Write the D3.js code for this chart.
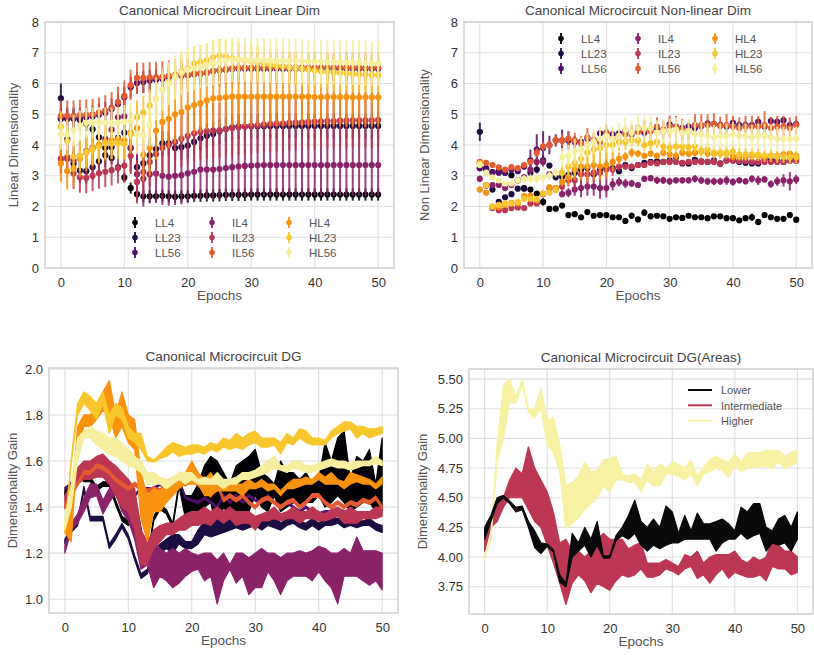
<!DOCTYPE html>
<html><head><meta charset="utf-8">
<script src="https://cdn.jsdelivr.net/npm/d3@7"></script>
<style>body{margin:0;background:#fff} svg{display:block} text{font-family:"Liberation Sans",Arial,sans-serif}</style>
</head><body><svg id="c" width="814" height="655"></svg>
<script>
const epochs = d3.range(0, 51);
const names = ["LL4","LL23","LL56","IL4","IL23","IL56","HL4","HL23","HL56"];
const colors = ["#000004","#1b0c41","#4f0e6d","#8a226a","#bc3754","#e45a31","#f8920f","#fac62d","#f6efa0"];
const xTicks = [0,10,20,30,40,50];
const dimTicks = [0,1,2,3,4,5,6,7,8];
const dgTicks = [1.0,1.2,1.4,1.6,1.8,2.0];
const areaTicks = [3.75,4.00,4.25,4.50,4.75,5.00,5.25,5.50];
const areaNames = ["Lower","Intermediate","Higher"];
const areaColors = ["#0a0a0c","#bc3754","#f7f2a4"];

// ---- Linear dimensionality (mean, error) ----
const linLL4 = [4.85,4.85,4.85,4.82,4.70,4.51,4.25,3.91,3.58,3.27,2.94,2.60,2.40,2.33,2.33,2.33,2.35,2.33,2.32,2.33,2.33,2.35,2.35,2.36,2.36,2.37,2.38,2.38,2.38,2.38,2.39,2.39,2.39,2.39,2.39,2.39,2.39,2.39,2.39,2.39,2.39,2.39,2.39,2.39,2.39,2.39,2.39,2.39,2.39,2.39,2.39];
const linLL4e = [0.30,0.30,0.30,0.30,0.25,0.20,0.20,0.20,0.20,0.15,0.15,0.18,0.20,0.20,0.20,0.20,0.20,0.20,0.20,0.20,0.20,0.20,0.20,0.20,0.20,0.20,0.20,0.20,0.20,0.20,0.20,0.20,0.20,0.20,0.20,0.20,0.20,0.20,0.20,0.20,0.20,0.20,0.20,0.20,0.20,0.20,0.20,0.20,0.20,0.20,0.20];
const linLL23 = [5.52,4.18,3.39,3.17,3.15,3.28,3.47,3.67,3.93,4.23,4.40,3.90,3.28,3.40,3.66,3.87,4.05,4.05,3.90,3.93,3.98,4.10,4.22,4.30,4.36,4.45,4.52,4.57,4.60,4.60,4.61,4.61,4.61,4.62,4.62,4.62,4.62,4.62,4.62,4.62,4.62,4.62,4.62,4.62,4.62,4.62,4.62,4.62,4.62,4.62,4.62];
const linLL23e = [0.48,0.40,0.40,0.40,0.40,0.40,0.40,0.40,0.40,0.40,0.40,0.40,0.40,0.40,0.40,0.40,0.40,0.40,0.40,0.40,0.40,0.40,0.40,0.40,0.40,0.40,0.40,0.40,0.40,0.40,0.40,0.40,0.40,0.40,0.40,0.40,0.40,0.40,0.40,0.40,0.40,0.40,0.40,0.40,0.40,0.40,0.40,0.40,0.40,0.40,0.40];
const linLL56 = [4.85,4.87,4.87,4.87,4.90,4.93,4.98,5.05,5.17,5.33,5.55,5.88,6.02,6.05,6.10,6.12,6.15,6.20,6.22,6.25,6.27,6.30,6.32,6.35,6.40,6.43,6.45,6.47,6.48,6.48,6.48,6.48,6.48,6.48,6.48,6.48,6.48,6.48,6.48,6.48,6.48,6.48,6.48,6.48,6.48,6.48,6.48,6.48,6.48,6.48,6.48];
const linLL56e = [0.35,0.35,0.35,0.35,0.35,0.35,0.35,0.35,0.35,0.35,0.35,0.35,0.35,0.35,0.35,0.35,0.35,0.35,0.35,0.35,0.35,0.35,0.35,0.35,0.35,0.35,0.35,0.35,0.35,0.35,0.35,0.35,0.35,0.35,0.35,0.35,0.35,0.35,0.35,0.35,0.35,0.35,0.35,0.35,0.35,0.35,0.35,0.35,0.35,0.35,0.35];
const linIL4 = [3.55,3.55,3.50,3.65,3.80,3.90,4.00,4.20,4.50,4.90,4.93,3.90,3.05,2.90,3.05,3.07,3.00,2.97,3.00,3.02,3.08,3.13,3.20,3.20,3.20,3.22,3.25,3.28,3.30,3.32,3.33,3.34,3.35,3.35,3.35,3.35,3.35,3.35,3.35,3.35,3.35,3.35,3.35,3.35,3.35,3.35,3.35,3.35,3.35,3.35,3.35];
const linIL4e = [0.45,0.45,0.45,0.50,0.50,0.50,0.50,0.55,0.60,0.65,0.70,0.80,0.90,0.90,0.95,0.95,0.95,0.95,0.95,0.95,0.95,0.95,0.95,0.95,0.95,0.95,1.00,1.00,1.00,1.00,1.00,1.00,1.00,1.00,1.00,1.00,1.00,1.00,1.00,1.00,1.00,1.00,1.00,1.00,1.00,1.00,1.00,1.00,1.00,1.00,1.00];
const linIL23 = [3.55,3.60,3.07,2.95,2.93,3.00,3.08,3.13,3.18,3.25,3.33,3.65,2.80,3.12,3.45,3.70,3.90,4.00,4.10,4.20,4.30,4.38,4.42,4.45,4.47,4.48,4.52,4.55,4.58,4.60,4.62,4.64,4.66,4.68,4.70,4.70,4.72,4.73,4.74,4.75,4.76,4.77,4.78,4.78,4.79,4.79,4.80,4.80,4.80,4.80,4.81];
const linIL23e = [0.50,0.50,0.50,0.50,0.50,0.50,0.50,0.50,0.50,0.50,0.55,0.60,0.70,0.75,0.80,0.85,0.90,0.90,0.90,0.90,0.90,0.90,0.90,0.90,0.90,0.90,0.90,0.90,0.90,0.90,0.90,0.90,0.90,0.90,0.90,0.90,0.90,0.90,0.90,0.90,0.90,0.90,0.90,0.90,0.90,0.90,0.90,0.90,0.90,0.90,0.90];
const linIL56 = [4.95,4.95,4.95,4.97,4.98,5.00,5.05,5.12,5.22,5.40,5.60,5.95,6.18,6.18,6.20,6.20,6.22,6.25,6.27,6.28,6.30,6.32,6.33,6.36,6.40,6.43,6.47,6.50,6.51,6.52,6.52,6.52,6.52,6.52,6.52,6.52,6.52,6.52,6.52,6.52,6.52,6.52,6.52,6.52,6.52,6.52,6.52,6.52,6.52,6.52,6.52];
const linIL56e = [0.50,0.50,0.50,0.50,0.50,0.50,0.50,0.50,0.50,0.50,0.50,0.50,0.50,0.50,0.50,0.50,0.50,0.50,0.50,0.50,0.50,0.50,0.50,0.50,0.50,0.50,0.50,0.50,0.50,0.50,0.50,0.50,0.50,0.50,0.50,0.50,0.50,0.50,0.50,0.50,0.50,0.50,0.50,0.50,0.50,0.50,0.50,0.50,0.50,0.50,0.50];
const linHL4 = [3.40,3.15,3.25,3.55,3.75,3.90,4.00,4.10,4.15,4.20,4.15,4.40,4.55,3.68,3.90,4.47,4.75,4.85,5.00,5.07,5.22,5.30,5.36,5.45,5.52,5.53,5.55,5.57,5.57,5.57,5.57,5.57,5.57,5.57,5.57,5.57,5.57,5.57,5.57,5.57,5.56,5.56,5.56,5.56,5.56,5.56,5.55,5.55,5.55,5.55,5.55];
const linHL4e = [0.60,0.60,0.60,0.60,0.60,0.60,0.60,0.60,0.60,0.60,0.60,0.70,0.80,0.85,0.90,0.95,0.95,0.95,0.95,0.95,0.95,0.95,0.95,0.95,0.95,0.95,0.95,0.95,0.95,0.95,0.95,0.95,0.95,0.95,0.95,0.95,0.95,0.95,0.95,0.95,0.95,0.95,0.95,0.95,0.95,0.95,0.95,0.95,0.95,0.95,0.95];
const linHL23 = [4.60,4.13,3.62,3.65,3.78,3.85,3.95,4.05,4.05,4.05,4.03,4.35,4.90,5.05,5.28,5.50,5.80,6.05,6.25,6.40,6.50,6.65,6.70,6.75,6.85,6.90,6.87,6.82,6.78,6.75,6.72,6.68,6.64,6.60,6.57,6.55,6.52,6.50,6.48,6.45,6.42,6.40,6.38,6.36,6.35,6.33,6.31,6.30,6.29,6.28,6.27];
const linHL23e = [0.50,0.50,0.50,0.50,0.50,0.50,0.50,0.50,0.50,0.50,0.50,0.50,0.55,0.55,0.55,0.55,0.55,0.55,0.55,0.55,0.55,0.55,0.55,0.55,0.55,0.55,0.55,0.55,0.55,0.55,0.55,0.55,0.55,0.55,0.55,0.55,0.55,0.55,0.55,0.55,0.55,0.55,0.55,0.55,0.55,0.55,0.55,0.55,0.55,0.55,0.55];
const linHL56 = [4.35,4.33,4.48,4.62,4.72,4.73,4.73,4.72,4.72,4.73,4.75,4.78,4.35,4.30,4.65,5.50,5.80,6.00,6.20,6.35,6.45,6.50,6.55,6.60,6.65,6.70,6.75,6.77,6.77,6.77,6.76,6.76,6.75,6.75,6.74,6.74,6.73,6.73,6.72,6.72,6.71,6.71,6.70,6.70,6.69,6.69,6.68,6.68,6.67,6.66,6.65];
const linHL56e = [0.50,0.50,0.50,0.50,0.50,0.50,0.50,0.50,0.50,0.50,0.55,0.60,0.65,0.70,0.70,0.70,0.70,0.70,0.72,0.72,0.72,0.72,0.72,0.72,0.72,0.72,0.72,0.72,0.72,0.72,0.72,0.72,0.72,0.72,0.72,0.72,0.72,0.72,0.72,0.72,0.72,0.72,0.72,0.72,0.72,0.72,0.72,0.72,0.72,0.72,0.72];

// ---- Non-linear dimensionality (mean, error) ----
const nlLL4 = [3.25,3.20,3.12,3.17,3.10,3.02,2.85,2.60,2.55,2.42,2.15,1.92,1.93,2.03,1.72,1.75,1.65,1.82,1.70,1.72,1.72,1.65,1.65,1.53,1.70,1.58,1.80,1.68,1.70,1.68,1.60,1.65,1.63,1.70,1.65,1.65,1.62,1.68,1.68,1.62,1.62,1.55,1.62,1.65,1.50,1.72,1.65,1.60,1.60,1.72,1.57];
const nlLL4e = [0.05,0.05,0.05,0.05,0.05,0.05,0.05,0.05,0.05,0.05,0.12,0.08,0.05,0.05,0.08,0.05,0.05,0.05,0.05,0.05,0.05,0.05,0.05,0.05,0.10,0.07,0.10,0.05,0.08,0.08,0.08,0.05,0.05,0.05,0.05,0.05,0.05,0.08,0.05,0.05,0.05,0.05,0.06,0.12,0.05,0.05,0.05,0.05,0.05,0.07,0.09];
const nlLL23 = [4.43,3.25,2.55,2.15,2.30,2.40,2.58,2.58,3.10,3.20,3.50,3.33,2.95,2.97,3.03,3.10,3.20,3.25,3.05,3.20,3.25,3.25,3.15,3.35,3.25,3.35,3.42,3.45,3.47,3.45,3.50,3.60,3.40,3.40,3.52,3.47,3.45,3.50,3.40,3.50,3.50,3.45,3.42,3.40,3.40,3.55,3.50,3.50,3.45,3.50,3.55];
const nlLL23e = [0.30,0.10,0.06,0.06,0.06,0.06,0.06,0.06,0.08,0.12,0.15,0.06,0.06,0.06,0.06,0.06,0.06,0.06,0.06,0.06,0.06,0.06,0.06,0.06,0.06,0.06,0.06,0.06,0.06,0.06,0.06,0.08,0.06,0.06,0.06,0.06,0.06,0.06,0.06,0.06,0.06,0.06,0.06,0.06,0.06,0.06,0.06,0.06,0.06,0.06,0.06];
const nlLL56 = [3.25,3.20,3.10,3.10,3.10,3.20,3.15,3.30,3.50,3.85,3.90,4.00,4.15,4.15,4.15,4.10,4.10,4.20,4.15,4.38,4.38,4.35,4.38,4.45,4.35,4.55,4.40,4.50,4.55,4.45,4.67,4.60,4.55,4.60,4.55,4.62,4.70,4.68,4.65,4.60,4.72,4.65,4.65,4.65,4.75,4.60,4.78,4.75,4.80,4.65,4.68];
const nlLL56e = [0.08,0.08,0.08,0.08,0.08,0.08,0.08,0.10,0.35,0.50,0.55,0.30,0.20,0.35,0.30,0.20,0.15,0.20,0.15,0.10,0.15,0.12,0.12,0.10,0.10,0.12,0.10,0.12,0.15,0.12,0.15,0.12,0.12,0.12,0.12,0.12,0.12,0.12,0.12,0.12,0.12,0.12,0.12,0.12,0.12,0.12,0.12,0.12,0.12,0.12,0.12];
const nlIL4 = [2.90,2.68,2.70,2.70,2.60,2.70,2.85,2.95,3.20,3.45,3.45,3.05,2.60,2.40,2.45,2.55,2.60,2.65,2.65,2.60,2.60,2.72,2.80,2.75,2.75,2.70,2.90,2.92,2.85,2.85,2.82,2.85,2.85,2.85,2.90,2.85,2.82,2.82,2.82,2.85,2.80,2.85,2.82,2.90,2.85,2.88,2.73,2.82,2.85,2.82,2.88];
const nlIL4e = [0.10,0.08,0.08,0.08,0.08,0.08,0.08,0.10,0.15,0.15,0.15,0.10,0.10,0.10,0.15,0.20,0.30,0.30,0.30,0.35,0.30,0.20,0.15,0.15,0.12,0.10,0.10,0.10,0.12,0.12,0.12,0.10,0.10,0.10,0.12,0.12,0.12,0.12,0.12,0.15,0.12,0.10,0.10,0.12,0.15,0.10,0.12,0.15,0.20,0.30,0.15];
const nlIL23 = [3.40,2.70,1.95,1.88,1.88,1.95,1.97,1.95,2.10,2.10,2.40,2.58,2.55,2.65,2.85,2.85,3.05,3.05,3.10,3.10,3.20,3.20,3.30,3.30,3.30,3.35,3.35,3.42,3.40,3.45,3.45,3.45,3.42,3.45,3.45,3.45,3.45,3.45,3.38,3.50,3.50,3.48,3.48,3.45,3.45,3.45,3.45,3.45,3.45,3.50,3.48];
const nlIL23e = [0.08,0.06,0.06,0.06,0.06,0.06,0.06,0.06,0.06,0.06,0.10,0.10,0.10,0.15,0.20,0.30,0.35,0.35,0.30,0.30,0.30,0.20,0.15,0.10,0.10,0.08,0.08,0.08,0.08,0.08,0.08,0.08,0.08,0.08,0.08,0.08,0.08,0.08,0.08,0.08,0.08,0.08,0.08,0.08,0.08,0.08,0.08,0.08,0.08,0.08,0.08];
const nlIL56 = [3.45,3.42,3.35,3.27,3.20,3.28,3.25,3.35,3.45,3.75,3.95,4.00,4.15,4.15,4.20,4.15,4.05,4.25,4.15,4.10,4.40,4.20,4.30,4.35,4.40,4.42,4.50,4.45,4.60,4.50,4.60,4.60,4.50,4.45,4.65,4.65,4.65,4.68,4.62,4.65,4.60,4.55,4.60,4.60,4.60,4.65,4.55,4.60,4.60,4.55,4.65];
const nlIL56e = [0.10,0.08,0.08,0.08,0.08,0.08,0.08,0.10,0.10,0.15,0.15,0.15,0.15,0.20,0.25,0.25,0.25,0.30,0.25,0.25,0.25,0.25,0.25,0.25,0.25,0.25,0.30,0.30,0.30,0.30,0.35,0.35,0.35,0.30,0.35,0.35,0.35,0.35,0.30,0.35,0.35,0.35,0.35,0.35,0.35,0.45,0.35,0.35,0.35,0.35,0.30];
const nlHL4 = [2.55,2.45,2.00,1.98,2.05,2.12,2.10,2.35,2.35,2.20,2.42,2.62,2.60,2.80,2.95,3.20,3.30,3.30,3.35,3.30,3.35,3.45,3.55,3.62,3.75,3.72,3.65,3.72,3.65,3.75,3.70,3.65,3.75,3.72,3.75,3.80,3.72,3.72,3.72,3.72,3.62,3.62,3.62,3.65,3.65,3.62,3.65,3.65,3.70,3.72,3.65];
const nlHL4e = [0.10,0.06,0.06,0.06,0.06,0.06,0.06,0.06,0.06,0.06,0.10,0.10,0.10,0.15,0.25,0.35,0.45,0.50,0.50,0.45,0.40,0.30,0.20,0.15,0.15,0.12,0.10,0.10,0.10,0.12,0.15,0.12,0.12,0.12,0.12,0.12,0.12,0.12,0.12,0.12,0.12,0.12,0.12,0.12,0.12,0.12,0.12,0.12,0.12,0.12,0.12];
const nlHL23 = [3.40,2.70,2.00,2.05,2.10,2.10,2.15,2.25,2.25,2.25,2.42,2.45,2.55,3.10,3.30,3.40,3.55,3.75,3.85,3.90,4.00,4.00,4.10,4.10,4.15,4.15,4.00,4.05,4.10,3.95,3.90,3.95,3.95,3.92,3.95,3.80,3.85,3.75,3.75,3.75,3.78,3.70,3.70,3.70,3.68,3.65,3.65,3.62,3.62,3.60,3.60];
const nlHL23e = [0.10,0.06,0.06,0.06,0.06,0.06,0.06,0.06,0.06,0.06,0.08,0.08,0.10,0.20,0.30,0.40,0.45,0.50,0.50,0.50,0.45,0.40,0.30,0.25,0.20,0.20,0.20,0.20,0.20,0.20,0.20,0.20,0.20,0.20,0.20,0.20,0.20,0.20,0.20,0.20,0.20,0.20,0.20,0.20,0.20,0.20,0.20,0.20,0.20,0.20,0.20];
const nlHL56 = [3.35,3.10,2.95,2.85,2.75,2.75,2.85,2.90,2.90,2.90,2.95,3.00,3.10,3.60,3.65,3.80,3.85,4.00,4.10,4.20,4.30,4.20,4.30,4.50,4.40,4.55,4.55,4.55,4.40,4.45,4.45,4.50,4.40,4.45,4.35,4.35,4.30,4.25,4.30,4.30,4.35,4.30,4.30,4.25,4.30,4.30,4.25,4.20,4.20,4.20,4.20];
const nlHL56e = [0.10,0.06,0.06,0.06,0.06,0.06,0.10,0.12,0.15,0.15,0.15,0.15,0.15,0.30,0.35,0.40,0.40,0.40,0.40,0.40,0.40,0.40,0.40,0.40,0.40,0.40,0.40,0.40,0.40,0.40,0.40,0.40,0.40,0.40,0.40,0.40,0.40,0.40,0.40,0.40,0.40,0.40,0.40,0.40,0.40,0.40,0.40,0.40,0.40,0.40,0.40];

// ---- Dimensionality gain bands (low, high) ----
const dgLL4lo = [1.45,1.49,1.54,1.51,1.51,1.47,1.49,1.49,1.41,1.34,1.32,1.44,1.29,1.15,1.34,1.39,1.37,1.31,1.49,1.35,1.38,1.35,1.40,1.42,1.28,1.40,1.36,1.37,1.35,1.38,1.45,1.40,1.38,1.45,1.38,1.40,1.42,1.40,1.42,1.42,1.45,1.40,1.42,1.45,1.42,1.38,1.40,1.42,1.42,1.38,1.40];
const dgLL4hi = [1.47,1.51,1.56,1.53,1.53,1.49,1.51,1.51,1.43,1.36,1.34,1.46,1.31,1.17,1.36,1.41,1.39,1.33,1.51,1.45,1.45,1.50,1.58,1.62,1.60,1.55,1.50,1.58,1.60,1.62,1.65,1.55,1.53,1.50,1.60,1.55,1.55,1.52,1.55,1.50,1.52,1.68,1.60,1.70,1.73,1.52,1.62,1.60,1.65,1.50,1.70];
const dgLL23lo = [1.24,1.29,1.32,1.47,1.34,1.34,1.34,1.22,1.26,1.31,1.26,1.17,1.09,1.11,1.18,1.20,1.22,1.20,1.24,1.22,1.22,1.24,1.28,1.27,1.28,1.29,1.30,1.31,1.30,1.31,1.32,1.30,1.32,1.31,1.30,1.32,1.33,1.31,1.30,1.32,1.30,1.32,1.32,1.33,1.31,1.32,1.31,1.32,1.32,1.30,1.29];
const dgLL23hi = [1.26,1.31,1.34,1.49,1.36,1.36,1.36,1.24,1.28,1.33,1.28,1.19,1.11,1.13,1.21,1.24,1.26,1.28,1.28,1.25,1.25,1.30,1.34,1.32,1.36,1.34,1.35,1.36,1.34,1.36,1.35,1.35,1.36,1.37,1.33,1.35,1.36,1.34,1.33,1.35,1.33,1.36,1.36,1.35,1.37,1.35,1.34,1.34,1.35,1.33,1.32];
const dgLL56lo = [1.475,1.495,1.545,1.545,1.545,1.545,1.545,1.495,1.475,1.415,1.395,1.445,1.475,1.475,1.475,1.495,1.475,1.495,1.515,1.435,1.425,1.415,1.435,1.415,1.395,1.445,1.415,1.445,1.415,1.445,1.425,1.415,1.445,1.415,1.395,1.415,1.395,1.375,1.395,1.375,1.365,1.375,1.375,1.385,1.375,1.355,1.365,1.355,1.365,1.375,1.385];
const dgLL56hi = [1.485,1.505,1.555,1.555,1.555,1.555,1.555,1.505,1.485,1.425,1.405,1.455,1.485,1.485,1.485,1.505,1.485,1.505,1.525,1.445,1.435,1.425,1.445,1.425,1.405,1.455,1.425,1.455,1.425,1.455,1.435,1.425,1.455,1.425,1.405,1.425,1.405,1.385,1.405,1.385,1.375,1.385,1.385,1.395,1.385,1.365,1.375,1.365,1.375,1.385,1.395];
const dgIL4lo = [1.20,1.30,1.33,1.38,1.44,1.45,1.37,1.42,1.46,1.38,1.34,1.26,1.13,1.15,1.05,1.10,1.08,1.05,1.07,1.10,1.12,1.13,1.08,1.10,0.98,1.08,1.13,1.07,1.10,1.02,1.05,1.05,1.12,1.08,1.02,1.08,1.10,1.10,1.10,1.08,1.12,1.08,1.05,0.98,1.10,1.10,1.10,1.08,1.06,1.08,1.04];
const dgIL4hi = [1.23,1.33,1.37,1.44,1.50,1.50,1.43,1.48,1.52,1.44,1.40,1.32,1.18,1.27,1.25,1.22,1.20,1.22,1.20,1.22,1.20,1.19,1.20,1.20,1.17,1.20,1.15,1.20,1.20,1.18,1.20,1.22,1.20,1.20,1.18,1.20,1.20,1.21,1.20,1.21,1.23,1.22,1.20,1.20,1.22,1.20,1.27,1.21,1.21,1.21,1.20];
const dgIL23lo = [1.40,1.45,1.50,1.52,1.52,1.53,1.53,1.50,1.45,1.40,1.38,1.30,1.15,1.15,1.22,1.25,1.28,1.28,1.30,1.30,1.32,1.32,1.33,1.32,1.35,1.33,1.35,1.32,1.33,1.33,1.30,1.34,1.34,1.35,1.34,1.35,1.35,1.33,1.35,1.35,1.34,1.34,1.35,1.36,1.33,1.33,1.33,1.35,1.35,1.35,1.36];
const dgIL23hi = [1.45,1.50,1.57,1.60,1.60,1.62,1.63,1.60,1.58,1.55,1.52,1.48,1.30,1.25,1.30,1.32,1.33,1.33,1.35,1.37,1.38,1.38,1.40,1.38,1.40,1.38,1.40,1.38,1.38,1.38,1.36,1.37,1.38,1.40,1.37,1.38,1.40,1.38,1.38,1.40,1.38,1.37,1.39,1.40,1.38,1.40,1.38,1.38,1.38,1.40,1.40];
const dgIL56lo = [1.392,1.442,1.492,1.542,1.542,1.572,1.562,1.542,1.512,1.492,1.472,1.492,1.472,1.462,1.472,1.462,1.492,1.492,1.512,1.492,1.512,1.492,1.472,1.442,1.492,1.422,1.442,1.422,1.442,1.412,1.392,1.422,1.432,1.412,1.392,1.412,1.422,1.392,1.412,1.442,1.442,1.412,1.392,1.412,1.392,1.412,1.402,1.422,1.412,1.432,1.392];
const dgIL56hi = [1.408,1.458,1.508,1.558,1.558,1.588,1.578,1.558,1.528,1.508,1.488,1.508,1.488,1.478,1.488,1.478,1.508,1.508,1.528,1.508,1.528,1.508,1.488,1.458,1.508,1.438,1.458,1.438,1.458,1.428,1.408,1.438,1.448,1.428,1.408,1.428,1.438,1.408,1.428,1.458,1.458,1.428,1.408,1.428,1.408,1.428,1.418,1.438,1.428,1.448,1.408];
const dgHL4lo = [1.29,1.25,1.65,1.75,1.75,1.78,1.82,1.80,1.70,1.75,1.68,1.65,1.35,1.25,1.38,1.38,1.42,1.45,1.48,1.50,1.50,1.50,1.45,1.45,1.47,1.47,1.47,1.47,1.45,1.48,1.48,1.49,1.47,1.48,1.45,1.48,1.48,1.49,1.50,1.50,1.52,1.50,1.50,1.50,1.48,1.50,1.51,1.50,1.50,1.48,1.50];
const dgHL4hi = [1.31,1.40,1.75,1.80,1.80,1.85,1.90,1.95,1.80,1.90,1.80,1.78,1.55,1.45,1.48,1.47,1.50,1.52,1.53,1.55,1.60,1.55,1.52,1.55,1.50,1.50,1.50,1.50,1.50,1.52,1.50,1.52,1.50,1.50,1.47,1.50,1.52,1.52,1.53,1.52,1.55,1.53,1.55,1.52,1.51,1.55,1.54,1.53,1.52,1.50,1.53];
const dgHL23lo = [1.29,1.59,1.80,1.85,1.82,1.78,1.85,1.72,1.80,1.78,1.70,1.68,1.65,1.60,1.595,1.61,1.62,1.64,1.62,1.63,1.63,1.64,1.63,1.65,1.64,1.66,1.65,1.66,1.65,1.67,1.68,1.66,1.66,1.67,1.63,1.68,1.67,1.70,1.68,1.67,1.67,1.67,1.70,1.72,1.73,1.74,1.70,1.72,1.70,1.71,1.72];
const dgHL23hi = [1.31,1.61,1.85,1.90,1.88,1.85,1.90,1.80,1.85,1.83,1.75,1.72,1.72,1.62,1.605,1.63,1.66,1.68,1.67,1.66,1.67,1.67,1.66,1.68,1.67,1.70,1.69,1.72,1.70,1.72,1.73,1.70,1.70,1.70,1.68,1.72,1.70,1.74,1.73,1.70,1.70,1.69,1.73,1.75,1.77,1.77,1.75,1.75,1.74,1.74,1.75];
const dgHL56lo = [1.30,1.40,1.60,1.70,1.70,1.67,1.65,1.63,1.62,1.60,1.58,1.57,1.55,1.50,1.50,1.50,1.48,1.50,1.52,1.50,1.52,1.50,1.50,1.50,1.50,1.48,1.50,1.50,1.52,1.52,1.53,1.54,1.55,1.57,1.56,1.55,1.57,1.56,1.55,1.55,1.56,1.57,1.58,1.57,1.57,1.56,1.57,1.58,1.58,1.59,1.58];
const dgHL56hi = [1.35,1.50,1.70,1.73,1.75,1.73,1.72,1.70,1.70,1.68,1.65,1.62,1.60,1.55,1.55,1.53,1.52,1.53,1.55,1.55,1.55,1.52,1.53,1.52,1.55,1.52,1.52,1.53,1.55,1.55,1.56,1.58,1.60,1.62,1.58,1.58,1.60,1.60,1.58,1.58,1.59,1.60,1.61,1.60,1.60,1.59,1.60,1.60,1.60,1.62,1.60];

// ---- Dimensionality gain by area (low, high) ----
const arLowerLo = [4.15,4.30,4.45,4.50,4.45,4.38,4.40,4.25,4.08,4.03,4.09,4.04,3.79,3.75,4.00,4.05,4.10,4.00,4.10,3.99,3.99,4.14,4.18,4.15,4.20,4.10,4.05,4.10,4.07,4.10,4.12,4.12,4.15,4.15,4.15,4.15,4.15,4.05,4.12,4.15,4.15,4.20,4.15,4.18,4.20,4.05,4.12,4.10,4.12,4.05,4.15];
const arLowerHi = [4.25,4.35,4.50,4.52,4.47,4.42,4.43,4.30,4.22,4.12,4.11,4.06,3.85,3.78,4.20,4.12,4.25,4.15,4.30,4.01,4.01,4.18,4.25,4.35,4.48,4.30,4.25,4.32,4.25,4.43,4.38,4.20,4.35,4.22,4.37,4.28,4.28,4.30,4.32,4.28,4.22,4.42,4.38,4.45,4.45,4.25,4.22,4.32,4.35,4.25,4.38];
const arInterLo = [4.05,4.25,4.30,4.42,4.50,4.50,4.50,4.40,4.30,4.25,4.10,3.95,3.78,3.60,3.78,3.85,3.80,3.70,3.78,3.75,3.72,3.80,3.85,3.83,3.85,3.90,3.83,3.83,3.85,3.90,3.88,3.85,3.90,3.92,3.82,3.85,3.78,3.85,3.90,3.82,3.87,3.85,3.83,3.83,3.85,3.80,3.92,3.90,3.90,3.85,3.87];
const arInterHi = [4.15,4.30,4.45,4.50,4.65,4.75,4.70,4.93,4.75,4.65,4.55,4.38,4.12,4.15,4.05,4.05,4.00,4.05,4.15,4.20,4.15,4.15,4.15,4.07,4.10,4.12,3.95,3.95,3.95,3.98,3.95,3.92,4.02,4.00,4.05,3.95,4.00,4.02,4.02,4.02,4.05,3.98,3.95,4.00,3.97,4.00,4.15,4.10,4.05,4.05,4.00];
const arHigherLo = [3.98,4.15,4.80,5.00,5.30,5.30,5.45,5.22,5.17,5.25,4.95,4.88,4.72,4.24,4.28,4.33,4.40,4.45,4.50,4.60,4.55,4.65,4.65,4.63,4.63,4.55,4.65,4.60,4.60,4.70,4.70,4.68,4.65,4.70,4.60,4.70,4.72,4.75,4.73,4.67,4.77,4.72,4.75,4.76,4.76,4.77,4.75,4.80,4.75,4.77,4.80];
const arHigherHi = [4.00,4.20,4.95,5.45,5.50,5.35,5.50,5.25,5.25,5.42,5.15,5.18,4.95,4.60,4.63,4.68,4.80,4.72,4.73,4.82,4.83,4.85,4.70,4.68,4.70,4.65,4.78,4.72,4.78,4.75,4.80,4.78,4.75,4.82,4.68,4.76,4.82,4.85,4.82,4.80,4.87,4.80,4.88,4.88,4.88,4.90,4.90,4.90,4.85,4.88,4.90];

const linMeans = [linLL4,linLL23,linLL56,linIL4,linIL23,linIL56,linHL4,linHL23,linHL56];
const linErrs = [linLL4e,linLL23e,linLL56e,linIL4e,linIL23e,linIL56e,linHL4e,linHL23e,linHL56e];
const nlMeans = [nlLL4,nlLL23,nlLL56,nlIL4,nlIL23,nlIL56,nlHL4,nlHL23,nlHL56];
const nlErrs = [nlLL4e,nlLL23e,nlLL56e,nlIL4e,nlIL23e,nlIL56e,nlHL4e,nlHL23e,nlHL56e];
const dgLo = [dgLL4lo,dgLL23lo,dgLL56lo,dgIL4lo,dgIL23lo,dgIL56lo,dgHL4lo,dgHL23lo,dgHL56lo];
const dgHi = [dgLL4hi,dgLL23hi,dgLL56hi,dgIL4hi,dgIL23hi,dgIL56hi,dgHL4hi,dgHL23hi,dgHL56hi];
const arLo = [arLowerLo,arInterLo,arHigherLo];
const arHi = [arLowerHi,arInterHi,arHigherHi];

const svg = d3.select("#c");
const TXT = "#555", TICK = "#333", GRID = "#e0e0e0", FRAME = "#d4d4d4";

function panel(box, yDom, yTicks, yFmt, title, ylabel, ylabX) {
  const x = d3.scaleLinear().domain([-2.5, 52.5]).range([box.l, box.r]);
  const y = d3.scaleLinear().domain(yDom).range([box.b, box.t]);
  const g = svg.append("g");
  g.append("g").selectAll("line").data(xTicks).join("line")
    .attr("x1", d => x(d)).attr("x2", d => x(d)).attr("y1", box.t).attr("y2", box.b)
    .attr("stroke", GRID).attr("stroke-width", 1.1);
  g.append("g").selectAll("line").data(yTicks).join("line")
    .attr("x1", box.l).attr("x2", box.r).attr("y1", d => y(d)).attr("y2", d => y(d))
    .attr("stroke", GRID).attr("stroke-width", 1.1);
  const xa = g.append("g").attr("transform", `translate(0,${box.b})`)
    .call(d3.axisBottom(x).tickValues(xTicks).tickSize(0).tickPadding(10).tickFormat(d3.format("d")));
  const ya = g.append("g").attr("transform", `translate(${box.l},0)`)
    .call(d3.axisLeft(y).tickValues(yTicks).tickSize(0).tickPadding(6).tickFormat(yFmt));
  [xa, ya].forEach(a => { a.select(".domain").remove();
    a.selectAll("text").attr("fill", TICK).attr("font-size", 13)
     .style("font-family", '"Liberation Sans",Arial,sans-serif'); });
  svg.append("text").attr("x", (box.l + box.r) / 2).attr("y", box.t - 7)
    .attr("text-anchor", "middle").attr("fill", "#444").attr("font-size", 13.5).text(title);
  svg.append("text").attr("x", (box.l + box.r) / 2).attr("y", box.b + 32)
    .attr("text-anchor", "middle").attr("fill", TXT).attr("font-size", 13.5).text("Epochs");
  svg.append("text").attr("transform", `translate(${ylabX},${(box.t + box.b) / 2}) rotate(-90)`)
    .attr("text-anchor", "middle").attr("dominant-baseline", "central")
    .attr("fill", TXT).attr("font-size", 13).text(ylabel);
  const plot = svg.append("g");
  svg.append("rect").attr("x", box.l).attr("y", box.t)
    .attr("width", box.r - box.l).attr("height", box.b - box.t)
    .attr("fill", "none").attr("stroke", FRAME).attr("stroke-width", 1.6);
  return {x, y, plot};
}

function errPanel(p, means, errs) {
  means.forEach((m, i) => {
    const gs = p.plot.append("g");
    gs.selectAll("line").data(epochs).join("line")
      .attr("x1", e => p.x(e)).attr("x2", e => p.x(e))
      .attr("y1", e => p.y(m[e] - errs[i][e])).attr("y2", e => p.y(m[e] + errs[i][e]))
      .attr("stroke", colors[i]).attr("stroke-width", 2).attr("stroke-opacity", 0.85);
    gs.selectAll("circle").data(epochs).join("circle")
      .attr("cx", e => p.x(e)).attr("cy", e => p.y(m[e])).attr("r", 3.1)
      .attr("fill", colors[i]);
  });
}

function errLegend(x0, y0, colW, rowH) {
  const g = svg.append("g");
  names.forEach((n, i) => {
    const cx = x0 + Math.floor(i / 3) * colW, cy = y0 + (i % 3) * rowH;
    g.append("line").attr("x1", cx).attr("x2", cx).attr("y1", cy - 5.5).attr("y2", cy + 5.5)
      .attr("stroke", colors[i]).attr("stroke-width", 1.8);
    g.append("circle").attr("cx", cx).attr("cy", cy).attr("r", 2.8).attr("fill", colors[i]);
    g.append("text").attr("x", cx + 20).attr("y", cy + 4.2).attr("fill", TXT)
      .attr("font-size", 11.5).text(n);
  });
}

function bandPanel(p, los, his, cols, order) {
  order.forEach(i => {
    const area = d3.area().x(e => p.x(e)).y0(e => p.y(los[i][e])).y1(e => p.y(his[i][e]));
    p.plot.append("path").datum(epochs).attr("d", area)
      .attr("fill", cols[i]).attr("stroke", cols[i]).attr("stroke-width", 1.2)
      .attr("stroke-linejoin", "round");
  });
}

// Top-left
const pTL = panel({l:45, r:394, t:22, b:268}, [0, 8], dimTicks, d3.format("d"),
  "Canonical Microcircuit Linear Dim", "Linear Dimensionality", 13);
errPanel(pTL, linMeans, linErrs);
errLegend(135, 222.5, 77, 15);

// Top-right
const pTR = panel({l:464, r:812, t:22, b:268}, [0, 8], dimTicks, d3.format("d"),
  "Canonical Microcircuit Non-linear Dim", "Non Linear Dimensionality", 424);
errPanel(pTR, nlMeans, nlErrs);
errLegend(561, 38.5, 77, 15);

// Bottom-left
const pBL = panel({l:49, r:398, t:368, b:613}, [0.94, 2.004], dgTicks, d3.format(".1f"),
  "Canonical Microcircuit DG", "Dimensionality Gain", 12);
bandPanel(pBL, dgLo, dgHi, colors, [0,1,2,3,4,5,6,7,8]);

// Bottom-right
const pBR = panel({l:469, r:813, t:369, b:614}, [3.52, 5.585], areaTicks, d3.format(".2f"),
  "Canonical Microcircuit DG(Areas)", "Dimensionality Gain", 422);
bandPanel(pBR, arLo, arHi, areaColors, [1,2,0]);
const lg = svg.append("g");
areaNames.forEach((n, i) => {
  const yy = 390 + i * 15.3;
  lg.append("line").attr("x1", 688).attr("x2", 712).attr("y1", yy).attr("y2", yy)
    .attr("stroke", areaColors[i]).attr("stroke-width", 2);
  lg.append("text").attr("x", 721).attr("y", yy + 4.2).attr("fill", TXT)
    .attr("font-size", 11).text(n);
});
</script></body></html>
